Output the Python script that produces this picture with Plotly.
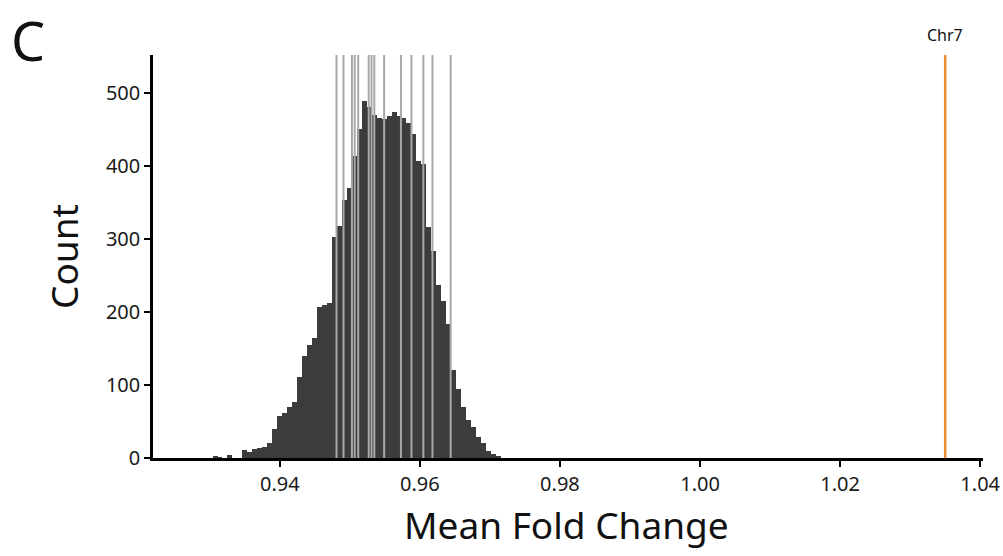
import plotly.graph_objects as go

# ---- data ----
bin_start = 0.9304      # left edge of first histogram bin
bin_width = 0.00071     # histogram bin width
counts = [2, 1, 0, 4, 0, 0, 11, 8, 13, 14, 15, 20, 40, 57, 61, 70, 77, 111,
          139, 154, 164, 207, 210, 212,
          302, 318, 353, 370, 414, 450, 488, 481, 470, 466, 464, 468, 473,
          468, 465, 458, 444, 407, 403, 316, 284, 237, 215, 184, 121, 95, 70,
          52, 42, 29, 20, 10, 6, 2]
other_chr = [0.9481, 0.9491, 0.9503, 0.9507, 0.9512, 0.9527, 0.9531, 0.9535,
             0.9549, 0.9573, 0.9588, 0.9605, 0.9618, 0.9644]
chr7_value = 1.035
chr7_label = "Chr7"
x_ticks = [0.94, 0.96, 0.98, 1.00, 1.02, 1.04]
y_ticks = [0, 100, 200, 300, 400, 500]
x_range = [0.9219, 1.0404]
y_range = [0, 551.6]

centers = [bin_start + (i + 0.5) * bin_width for i in range(len(counts))]

FONT = "Noto Sans"
fig = go.Figure()
fig.add_trace(go.Bar(x=centers, y=counts, width=bin_width,
                     marker=dict(color="#3c3c3c", line=dict(width=0)),
                     hoverinfo="x+y", showlegend=False))

shapes = []
for v in other_chr:
    shapes.append(dict(type="line", xref="x", yref="paper", x0=v, x1=v, y0=0, y1=1,
                       line=dict(color="#a8a8a8", width=2), layer="above"))
shapes.append(dict(type="line", xref="x", yref="paper", x0=chr7_value, x1=chr7_value,
                   y0=0, y1=1, line=dict(color="#ee8a35", width=2.5), layer="above"))

axis_common = dict(showgrid=False, zeroline=False, showline=True, linecolor="black",
                   linewidth=2.5, ticks="outside", ticklen=6, tickwidth=2, tickcolor="black",
                   automargin=False,
                   tickfont=dict(size=20, family=FONT, color="#1a1a1a"))

fig.update_layout(
    width=1003, height=556,
    margin=dict(l=153, r=20, t=55, b=98, autoexpand=False),
    paper_bgcolor="white", plot_bgcolor="white",
    bargap=0,
    shapes=shapes,
    font=dict(family=FONT, color="#1a1a1a"),
    xaxis=dict(range=x_range, tickvals=x_ticks, tickformat=".2f", **axis_common),
    yaxis=dict(range=y_range, tickvals=y_ticks, **axis_common),
    annotations=[
        dict(text=chr7_label, x=chr7_value, xref="x", y=1.0496, yref="paper",
             showarrow=False, font=dict(size=16, family=FONT, color="#111"),
             xanchor="center", yanchor="middle"),
        dict(text="C", x=-0.1506, xref="paper", y=1.134, yref="paper", showarrow=False,
             font=dict(size=54, family=FONT, color="#111"),
             xanchor="center", yanchor="top"),
        dict(text="Mean Fold Change", x=0.4976, xref="paper", y=-0.166, yref="paper",
             showarrow=False, font=dict(size=37, family=FONT, color="#111"),
             xanchor="center", yanchor="middle"),
        dict(text="Count", x=-0.1072, xref="paper", y=0.4988, yref="paper",
             showarrow=False, textangle=-90, font=dict(size=37, family=FONT, color="#111"),
             xanchor="center", yanchor="middle"),
    ],
)

fig.write_html("out.html", config={"displayModeBar": False},
               post_script="document.body.style.margin='0';")
